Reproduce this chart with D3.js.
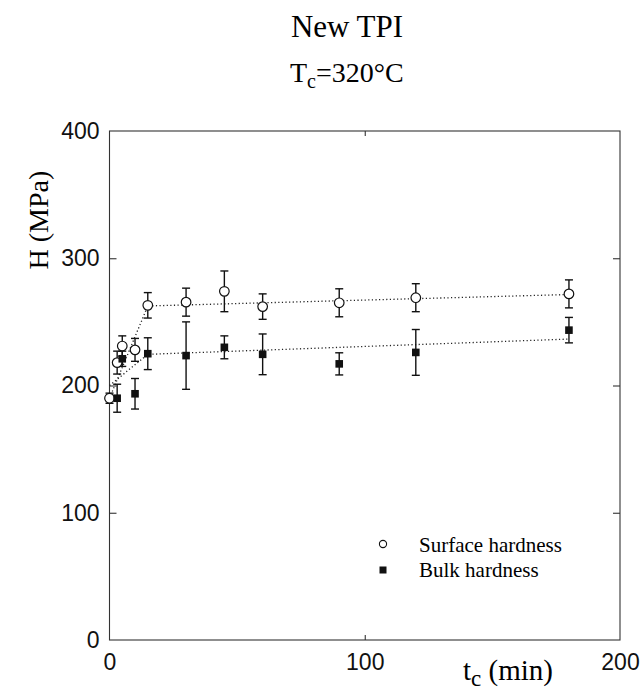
<!DOCTYPE html>
<html>
<head>
<meta charset="utf-8">
<script src="https://cdn.jsdelivr.net/npm/d3@7"></script>
<style>
  html, body { margin: 0; padding: 0; background: #fff; }
  svg { display: block; }
</style>
</head>
<body>
<svg id="chart" width="644" height="691"></svg>
<script>
// Surface hardness (open circles): time (min), hardness (MPa), error half-width
const surfaceTime = [0, 3, 5, 10, 15, 30, 45, 60, 90, 120, 180];
const surfaceH    = [190, 218, 231, 228, 263, 265.5, 274, 262, 265, 269, 272];
const surfaceErr  = [4, 9, 8, 9, 10, 11, 16, 10, 11, 11, 11];

// Bulk hardness (filled squares)
const bulkTime = [3, 5, 10, 15, 30, 45, 60, 90, 120, 180];
const bulkH    = [190, 221, 193.5, 225, 223.5, 230, 224.5, 217, 226, 243.5];
const bulkErr  = [11, 6, 12, 12.5, 26.5, 9, 16, 8.7, 18, 10];

// Dotted trend lines (two linear segments each)
const surfaceFitTime = [0, 15, 180];
const surfaceFitH    = [190, 262.5, 271.5];
const bulkFitTime    = [0, 15, 180];
const bulkFitH       = [200, 224.5, 236.5];

// Axis ticks
const xTicks = [0, 100, 200];
const yTicks = [0, 100, 200, 300, 400];

const svg = d3.select("#chart");
const x = d3.scaleLinear().domain([0, 200]).range([109.5, 620]);
const y = d3.scaleLinear().domain([0, 400]).range([640, 131]);

const serif = "'Liberation Serif', 'Times New Roman', serif";
const sans = "'Liberation Sans', Arial, sans-serif";

// Titles
svg.append("text").attr("x", 347).attr("y", 37).attr("text-anchor", "middle")
  .attr("font-family", serif).attr("font-size", 31).text("New TPI");
const sub = svg.append("text").attr("x", 290).attr("y", 82)
  .attr("font-family", serif).attr("font-size", 28);
sub.append("tspan").text("T");
sub.append("tspan").attr("dy", 6).attr("font-size", 20).text("c");
sub.append("tspan").attr("dy", -6).text("=320°C");

// Frame
const frame = svg.append("g").attr("stroke", "#333").attr("stroke-width", 1.1).attr("fill", "none");
frame.append("rect").attr("x", x(0)).attr("y", y(400))
  .attr("width", x(200) - x(0)).attr("height", y(0) - y(400));

// Axes with inward ticks on all four sides
const axisStyle = g => {
  g.select(".domain").remove();
  g.selectAll(".tick line").attr("stroke", "#333").attr("stroke-width", 1.1);
  g.selectAll(".tick text").attr("font-family", sans).attr("font-size", 23).attr("fill", "#111");
};
svg.append("g").attr("transform", `translate(0,${y(0)})`)
  .call(d3.axisBottom(x).tickValues(xTicks).tickSize(-5).tickPadding(14).tickFormat(d3.format("d")))
  .call(axisStyle)
  .call(g => g.selectAll(".tick line").filter(d => d === 0 || d === 200).remove());
svg.append("g").attr("transform", `translate(0,${y(400)})`)
  .call(d3.axisTop(x).tickValues([100]).tickSize(-5).tickFormat(""))
  .call(axisStyle);
svg.append("g").attr("transform", `translate(${x(0)},0)`)
  .call(d3.axisLeft(y).tickValues(yTicks).tickSize(-7).tickPadding(10).tickFormat(d3.format("d")))
  .call(axisStyle)
  .call(g => g.selectAll(".tick line").filter(d => d === 0 || d === 400).remove());
svg.append("g").attr("transform", `translate(${x(200)},0)`)
  .call(d3.axisRight(y).tickValues([100, 200, 300]).tickSize(-7).tickFormat(""))
  .call(axisStyle);

// Axis titles
svg.append("text").attr("transform", `translate(48,${y(330)}) rotate(-90)`)
  .attr("text-anchor", "middle").attr("font-family", serif).attr("font-size", 28).text("H (MPa)");
const xl = svg.append("text").attr("x", 463).attr("y", 680)
  .attr("font-family", serif).attr("font-size", 29);
xl.append("tspan").text("t");
xl.append("tspan").attr("dy", 6).attr("font-size", 23).text("c");
xl.append("tspan").attr("dy", -6).text(" (min)");

// Dotted trend lines
const line = d3.line().x(d => x(d[0])).y(d => y(d[1]));
[[surfaceFitTime, surfaceFitH], [bulkFitTime, bulkFitH]].forEach(([ts, hs]) => {
  svg.append("path").datum(d3.zip(ts, hs)).attr("d", line)
    .attr("fill", "none").attr("stroke", "#222").attr("stroke-width", 1.3)
    .attr("stroke-dasharray", "1.2,2.4");
});

// Error bars
function errorBars(ts, hs, es) {
  const g = svg.append("g").attr("stroke", "#111").attr("stroke-width", 1.4);
  const data = d3.zip(ts, hs, es);
  g.selectAll(".v").data(data).join("line")
    .attr("x1", d => x(d[0])).attr("x2", d => x(d[0]))
    .attr("y1", d => y(d[1] - d[2])).attr("y2", d => y(d[1] + d[2]));
  g.selectAll(".t").data(data).join("line")
    .attr("x1", d => x(d[0]) - 4).attr("x2", d => x(d[0]) + 4)
    .attr("y1", d => y(d[1] + d[2])).attr("y2", d => y(d[1] + d[2]));
  g.selectAll(".b").data(data).join("line")
    .attr("x1", d => x(d[0]) - 4).attr("x2", d => x(d[0]) + 4)
    .attr("y1", d => y(d[1] - d[2])).attr("y2", d => y(d[1] - d[2]));
}
errorBars(surfaceTime, surfaceH, surfaceErr);
errorBars(bulkTime, bulkH, bulkErr);

// Markers
svg.append("g").selectAll("circle").data(d3.zip(surfaceTime, surfaceH)).join("circle")
  .attr("cx", d => x(d[0])).attr("cy", d => y(d[1])).attr("r", 4.8)
  .attr("fill", "#fff").attr("stroke", "#111").attr("stroke-width", 1.2);
svg.append("g").selectAll("rect").data(d3.zip(bulkTime, bulkH)).join("rect")
  .attr("x", d => x(d[0]) - 3.8).attr("y", d => y(d[1]) - 3.8)
  .attr("width", 7.6).attr("height", 7.6).attr("fill", "#111");

// Legend
const legend = svg.append("g");
legend.append("circle").attr("cx", 383).attr("cy", 544).attr("r", 3.6)
  .attr("fill", "#fff").attr("stroke", "#111").attr("stroke-width", 1.1);
legend.append("text").attr("x", 419).attr("y", 552).attr("font-family", serif)
  .attr("font-size", 21).text("Surface hardness");
legend.append("rect").attr("x", 379.5).attr("y", 566.5).attr("width", 7).attr("height", 7).attr("fill", "#111");
legend.append("text").attr("x", 419).attr("y", 577).attr("font-family", serif)
  .attr("font-size", 21).text("Bulk hardness");
</script>
</body>
</html>
